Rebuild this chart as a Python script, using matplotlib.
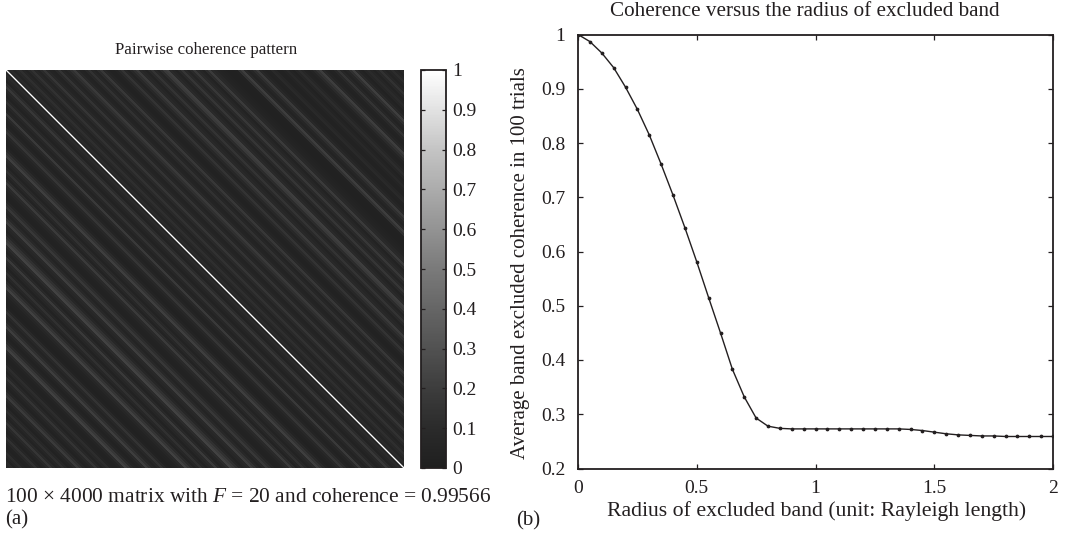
import numpy as np
import matplotlib
matplotlib.use("Agg")
import matplotlib.pyplot as plt
from matplotlib.cm import ScalarMappable
from matplotlib.colors import LinearSegmentedColormap, Normalize

plt.rcParams['font.family'] = ['Liberation Serif', 'DejaVu Serif']
plt.rcParams['mathtext.fontset'] = 'custom'
plt.rcParams['mathtext.rm'] = 'Liberation Serif'
plt.rcParams['mathtext.it'] = 'Liberation Serif:italic'

radius = [0.05 * i for i in range(41)]
avg_coherence = [1.0, 0.987, 0.966, 0.939, 0.903, 0.862, 0.815, 0.761, 0.704, 0.644,
                 0.581, 0.515, 0.450, 0.383, 0.332, 0.293, 0.278, 0.274, 0.273, 0.273,
                 0.273, 0.273, 0.273, 0.273, 0.273, 0.273, 0.273, 0.273, 0.272, 0.270,
                 0.267, 0.264, 0.262, 0.261, 0.260, 0.260, 0.259, 0.259, 0.259, 0.259, 0.259]
xticks_b = [0, 0.5, 1, 1.5, 2]
xlabels_b = ['0', '0.5', '1', '1.5', '2']
yticks_b = [0.2, 0.3, 0.4, 0.5, 0.6, 0.7, 0.8, 0.9, 1]
ylabels_b = ['0.2', '0.3', '0.4', '0.5', '0.6', '0.7', '0.8', '0.9', '1']
cbar_ticks = [0, 0.1, 0.2, 0.3, 0.4, 0.5, 0.6, 0.7, 0.8, 0.9, 1]
cbar_labels = ['0', '0.1', '0.2', '0.3', '0.4', '0.5', '0.6', '0.7', '0.8', '0.9', '1']

# Coherence along the diagonals of the matrix, in hundredths, read in bands of 3 px
upper_diagonals = [6, 9, 5, 8, 12, 6, 4, 9, 14, 7, 5, 10, 16, 8, 5, 4, 9, 15, 7, 5,
                   8, 13, 18, 9, 5, 4, 8, 14, 7, 5, 11, 17, 8, 5, 3, 3, 5, 10, 15, 7,
                   4, 8, 13, 19, 9, 6, 4, 9, 15, 8, 5, 11, 18, 21, 10, 6, 4, 9, 16, 9,
                   5, 10, 17, 10, 6, 4, 11, 19, 10, 7, 5, 4, 3, 2, 2, 2, 3, 14, 20, 8,
                   4, 6, 12, 18, 8, 5, 3, 4, 9, 6, 3, 3, 5, 8, 5, 3, 6, 11, 7, 4,
                   3, 5, 10, 15, 20, 9, 5, 3, 4, 8, 15, 7, 4, 6, 13, 21, 10, 5, 3, 6,
                   10, 6, 4, 8, 14, 7, 4, 6, 11, 6, 4, 7, 5]
lower_diagonals = [5, 10, 6, 4, 11, 17, 8, 5, 3, 7, 14, 7, 4, 6, 18, 9, 5, 3, 5, 11,
                   16, 8, 5, 3, 2, 4, 9, 15, 21, 10, 6, 4, 8, 14, 7, 4, 11, 19, 10, 6,
                   4, 3, 3, 6, 12, 17, 8, 5, 8, 15, 20, 9, 6, 4, 7, 13, 19, 23, 11, 6,
                   4, 9, 18, 10, 6, 3, 6, 13, 7, 4, 10, 16, 22, 10, 6, 4, 3, 2, 3, 8,
                   15, 8, 5, 7, 14, 20, 9, 5, 3, 5, 10, 17, 22, 10, 5, 3, 3, 5, 11, 7,
                   4, 8, 15, 8, 5, 3, 6, 13, 19, 9, 5, 3, 7, 12, 6, 4, 9, 16, 9, 5,
                   3, 6, 13, 8, 4, 3, 5, 11, 7, 4, 9, 6, 4]
matrix_size = 398

W, H = 1070, 535
def px_axes(fig, left, top, right, bottom):
    return fig.add_axes([left / W, 1 - bottom / H, (right - left) / W, (bottom - top) / H])

fig = plt.figure(figsize=(W / 100, H / 100), dpi=100, facecolor='white')
ink = '#231f20'

cmap = LinearSegmentedColormap.from_list('coh', [(0, '#1f1f1f'), (0.1, '#2b2b2b'), (0.2, '#3d3d3d'),
                                                 (0.5, '#7a7a7a'), (0.8, '#c4c4c4'), (1, '#ffffff')])
norm = Normalize(0, 1)

# (a) heat map
upper = np.repeat(np.array(upper_diagonals) / 100, 3)
lower = np.repeat(np.array(lower_diagonals) / 100, 3)
rows, cols = np.indices((matrix_size, matrix_size))
offset = cols - rows
matrix = np.where(offset > 0, upper[np.clip(offset - 1, 0, len(upper) - 1)],
                  lower[np.clip(-offset - 1, 0, len(lower) - 1)])
matrix[offset == 0] = 1.0
matrix[np.abs(offset) == 1] = 0.55

ax = px_axes(fig, 5.5, 70, 403.5, 468)
ax.imshow(matrix, cmap=cmap, norm=norm, interpolation='nearest', aspect='auto')
ax.set_xticks([]); ax.set_yticks([])
for s in ax.spines.values():
    s.set_visible(False)
fig.text(206 / W, 1 - 50 / H, 'Pairwise coherence pattern', fontsize=12.2, color=ink,
         va='center', ha='center')

# colour bar
cax = px_axes(fig, 421, 70, 445.5, 468)
cb = fig.colorbar(ScalarMappable(norm=norm, cmap=cmap), cax=cax)
cb.set_ticks(cbar_ticks, labels=cbar_labels)
cax.tick_params(axis='y', direction='in', left=True, right=True, length=3, width=0.9,
                color=ink, labelcolor=ink, labelsize=14, pad=5)
cb.outline.set_linewidth(1.3)
cb.outline.set_edgecolor(ink)

fig.text(5 / W, 1 - 498 / H, r'100 × 4000 matrix with $\it{F}$ = 20 and coherence = 0.99566',
         fontsize=15.4, color=ink, va='center', ha='left')
fig.text(5 / W, 1 - 520 / H, '(a)', fontsize=15, color=ink, va='center', ha='left')
fig.text(516 / W, 1 - 521 / H, '(b)', fontsize=15, color=ink, va='center', ha='left')

# (b) line chart
bx = px_axes(fig, 578, 34.5, 1053, 468.5)
bx.plot(radius, avg_coherence, color=ink, lw=1.0, marker='o', ms=1.7, mfc=ink, mec=ink)
bx.set_xlim(0, 2); bx.set_ylim(0.2, 1)
bx.set_xticks(xticks_b, labels=xlabels_b)
bx.set_yticks(yticks_b, labels=ylabels_b)
bx.tick_params(axis='both', direction='in', top=True, right=True, length=3.5, width=0.9,
               color=ink, labelcolor=ink, labelsize=14)
bx.tick_params(axis='x', pad=8)
bx.tick_params(axis='y', pad=9)
for s in bx.spines.values():
    s.set_linewidth(1.3); s.set_color(ink)
fig.text(805 / W, 1 - 11 / H, 'Coherence versus the radius of excluded band', fontsize=15.2, color=ink,
         va='center', ha='center')
fig.text(817 / W, 1 - 511 / H, 'Radius of excluded band (unit: Rayleigh length)', fontsize=15.7, color=ink,
         va='center', ha='center')
fig.text(521 / W, 1 - 263 / H, 'Average band excluded coherence in 100 trials', fontsize=15, color=ink,
         va='center', ha='center', rotation=90)

fig.savefig('out.png', dpi=100, facecolor='white')
